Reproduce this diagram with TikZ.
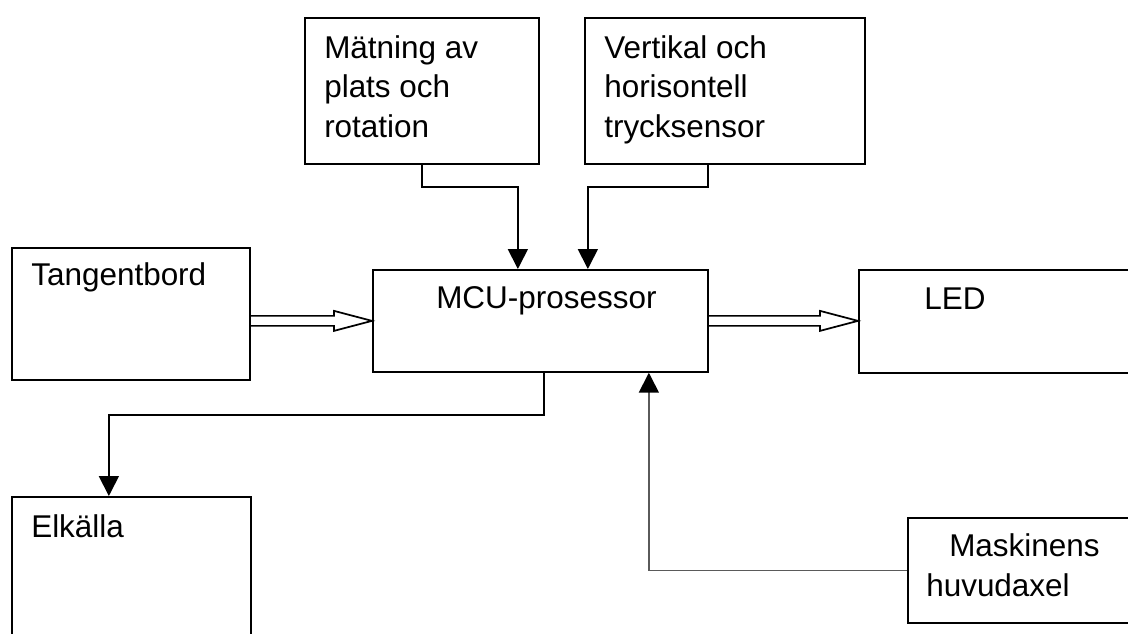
\documentclass[tikz,border=0pt]{standalone}
\usepackage{fontspec}
\setmainfont{Liberation Sans}
\usepackage{tikz}
\usetikzlibrary{arrows.meta, positioning, calc}
\definecolor{lineGray}{RGB}{90, 90, 90}

% outline of a wide hollow arrow from one node to the next
\newcommand{\hollowarrow}[2]{%
  \draw[line width=1.3pt] let \p1=(#1), \p2=(#2) in
    (\x1,\y1+3.75pt) -- (\x2-28.5pt,\y1+3.75pt) -- (\x2-28.5pt,\y1+7.5pt) -- (\x2,\y1)
    -- (\x2-28.5pt,\y1-7.5pt) -- (\x2-28.5pt,\y1-3.75pt) -- (\x1,\y1-3.75pt);
}

\begin{document}
\begin{tikzpicture}[x=0.75pt, y=-0.75pt,
    font=\fontsize{23.6pt}{29.6pt}\selectfont,
    box/.style={draw, line width=1.3pt, inner sep=0pt, anchor=north west},
    lbl/.style={inner sep=0pt, anchor=base west},
    arr/.style={line width=1.3pt, -{Triangle[length=15pt, width=15pt, color=black]}}]
        \useasboundingbox (0,0) rectangle (1128,633);
        \clip (0,0) rectangle (1128,633);
        % blocks
        \node[box, minimum width=175.5pt, minimum height=109.5pt] (matning) at (304,17) {};
        \node[box, minimum width=210pt, minimum height=109.5pt] (tryck) at (584,17) {};
        \node[box, minimum width=178.5pt, minimum height=99pt] (tangent) at (11,247) {};
        \node[box, minimum width=251.25pt, minimum height=76.5pt] (mcu) at (372,269) {};
        \node[box, minimum width=217.5pt, minimum height=77.25pt] (led) at (858,269) {};
        \node[box, minimum width=179.25pt, minimum height=120pt] (elkalla) at (11,496) {};
        \node[box, minimum width=180pt, minimum height=78.75pt] (axel) at (907,517) {};
        % texts
        \node[lbl] at (324,58) {Mätning av};
        \node[lbl] at (324,97) {plats och};
        \node[lbl] at (324,137) {rotation};
        \node[lbl] at (604,58) {Vertikal och};
        \node[lbl] at (604,97) {horisontell};
        \node[lbl] at (604,137) {trycksensor};
        \node[lbl] at (31,285) {Tangentbord};
        \node[lbl] at (436,308) {MCU-prosessor};
        \node[lbl] at (924,309) {LED};
        \node[lbl] at (31,537) {Elkälla};
        \node[lbl] at (949,556) {Maskinens};
        \node[lbl] at (926,596) {huvudaxel};
        % connectors
        \draw[arr] (matning.south) -- ++(0,22) -| ($(mcu.north)+(-22.5,0)$);
        \draw[arr] ($(tryck.south)+(-17,0)$) -- ++(0,22) -| ($(mcu.north)+(47.5,0)$);
        \draw[arr] ($(mcu.south)+(3.5,0)$) -- ++(0,42) -| ($(elkalla.north)+(-22.5,0)$);
        \draw[arr, draw=lineGray] (axel.west) -| ($(mcu.south)+(108.5,0)$);
        \hollowarrow{tangent.east |- mcu.west}{mcu.west}
        \hollowarrow{mcu.east}{led.west}
    \end{tikzpicture}
\end{document}
